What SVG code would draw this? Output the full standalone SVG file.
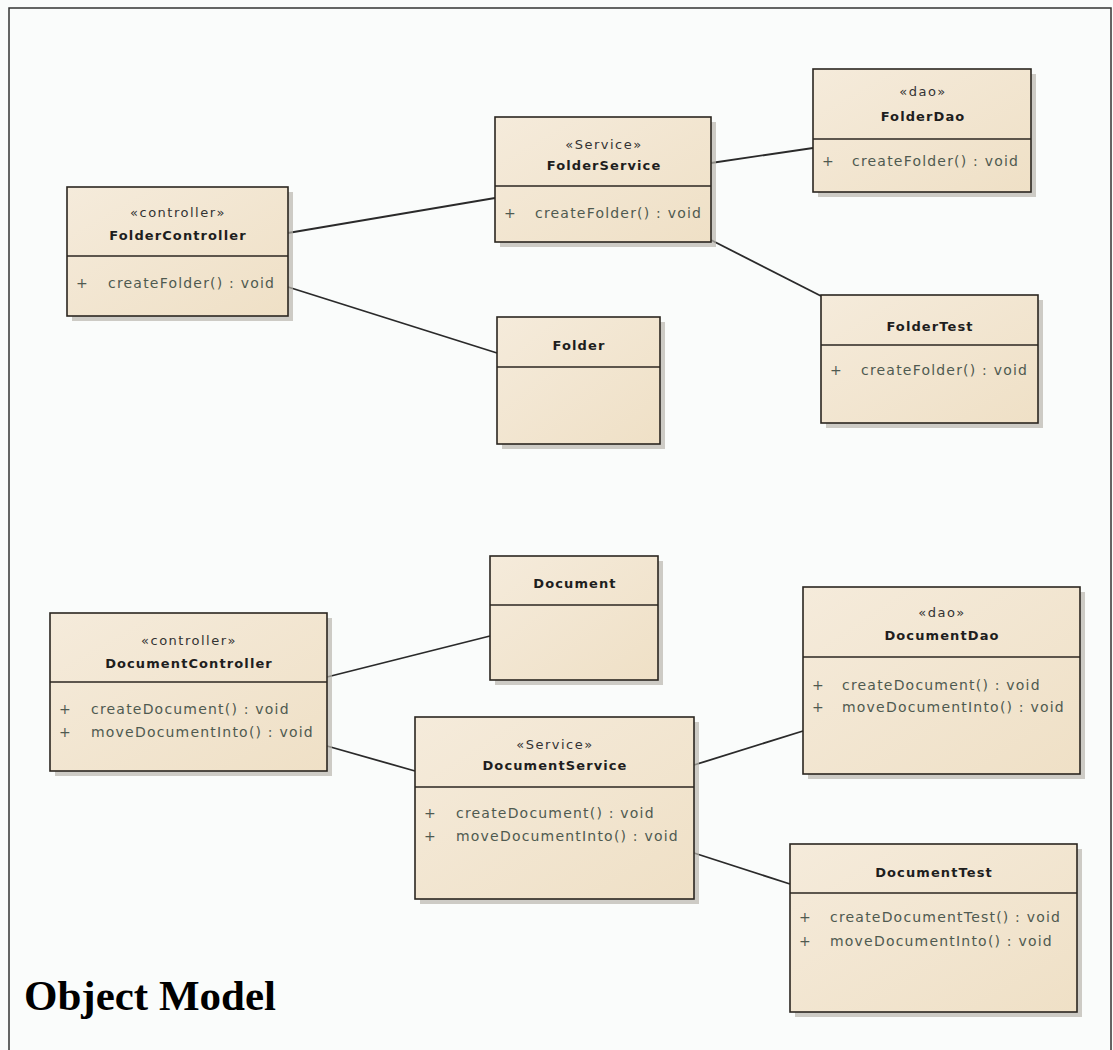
<svg xmlns="http://www.w3.org/2000/svg" width="1113" height="1050" viewBox="0 0 1113 1050">
<defs>
<linearGradient id="fill" x1="0" y1="0" x2="1" y2="1">
<stop offset="0" stop-color="#f5ebdb"/>
<stop offset="1" stop-color="#efe0c6"/>
</linearGradient>
<style>
.box{fill:url(#fill);stroke:#2b2620;stroke-width:1.6}
.sh{fill:#b9b6ae;opacity:0.7}
.div{stroke:#2b2620;stroke-width:1.4}
.st{font-family:"DejaVu Sans",sans-serif;font-size:13px;letter-spacing:1.5px;fill:#333;text-anchor:middle}
.nm{font-family:"DejaVu Sans",sans-serif;font-size:13px;letter-spacing:1.1px;font-weight:bold;fill:#1e1e1e;text-anchor:middle}
.op{font-family:"DejaVu Sans",sans-serif;font-size:14px;letter-spacing:1.2px;fill:#4f5a50}
.conn line{stroke:#2a2a2a;stroke-width:1.8}
</style>
</defs>
<rect x="0" y="0" width="1113" height="1050" fill="#fafcfb"/>
<rect x="9" y="8" width="1102" height="1050" fill="none" stroke="#333" stroke-width="1.5"/>

<g id="connectors" class="conn">
<line x1="288" y1="233" x2="495" y2="198"/>
<line x1="288" y1="287" x2="497" y2="353"/>
<line x1="711" y1="163" x2="813" y2="148"/>
<line x1="711" y1="240" x2="821" y2="296"/>
<line x1="327" y1="677" x2="490" y2="636"/>
<line x1="327" y1="746" x2="415" y2="771"/>
<line x1="694" y1="765" x2="803" y2="731"/>
<line x1="694" y1="853" x2="790" y2="884"/>
</g>

<g id="FolderController">
<rect class="sh" x="72" y="192" width="221" height="129"/>
<rect class="box" x="67" y="187" width="221" height="129"/>
<line class="div" x1="67" y1="256" x2="288" y2="256"/>
<text class="st" x="178" y="217">«controller»</text>
<text class="nm" x="178" y="240">FolderController</text>
<text class="op" x="76" y="288">+</text>
<text class="op" x="108" y="288">createFolder() : void</text>
</g>

<g id="FolderService">
<rect class="sh" x="500" y="122" width="216" height="125"/>
<rect class="box" x="495" y="117" width="216" height="125"/>
<line class="div" x1="495" y1="186" x2="711" y2="186"/>
<text class="st" x="604" y="149">«Service»</text>
<text class="nm" x="604" y="170">FolderService</text>
<text class="op" x="504" y="218">+</text>
<text class="op" x="535" y="218">createFolder() : void</text>
</g>

<g id="FolderDao">
<rect class="sh" x="818" y="74" width="218" height="123"/>
<rect class="box" x="813" y="69" width="218" height="123"/>
<line class="div" x1="813" y1="139" x2="1031" y2="139"/>
<text class="st" x="923" y="96">«dao»</text>
<text class="nm" x="923" y="121">FolderDao</text>
<text class="op" x="822" y="166">+</text>
<text class="op" x="852" y="166">createFolder() : void</text>
</g>

<g id="FolderTest">
<rect class="sh" x="826" y="300" width="217" height="128"/>
<rect class="box" x="821" y="295" width="217" height="128"/>
<line class="div" x1="821" y1="345" x2="1038" y2="345"/>
<text class="nm" x="930" y="331">FolderTest</text>
<text class="op" x="830" y="375">+</text>
<text class="op" x="861" y="375">createFolder() : void</text>
</g>

<g id="Folder">
<rect class="sh" x="502" y="322" width="163" height="127"/>
<rect class="box" x="497" y="317" width="163" height="127"/>
<line class="div" x1="497" y1="367" x2="660" y2="367"/>
<text class="nm" x="579" y="350">Folder</text>
</g>

<g id="Document">
<rect class="sh" x="495" y="561" width="168" height="124"/>
<rect class="box" x="490" y="556" width="168" height="124"/>
<line class="div" x1="490" y1="605" x2="658" y2="605"/>
<text class="nm" x="575" y="588">Document</text>
</g>

<g id="DocumentController">
<rect class="sh" x="55" y="618" width="277" height="158"/>
<rect class="box" x="50" y="613" width="277" height="158"/>
<line class="div" x1="50" y1="682" x2="327" y2="682"/>
<text class="st" x="189" y="645">«controller»</text>
<text class="nm" x="189" y="668">DocumentController</text>
<text class="op" x="59" y="714">+</text>
<text class="op" x="91" y="714">createDocument() : void</text>
<text class="op" x="59" y="737">+</text>
<text class="op" x="91" y="737">moveDocumentInto() : void</text>
</g>

<g id="DocumentService">
<rect class="sh" x="420" y="722" width="279" height="182"/>
<rect class="box" x="415" y="717" width="279" height="182"/>
<line class="div" x1="415" y1="787" x2="694" y2="787"/>
<text class="st" x="555" y="749">«Service»</text>
<text class="nm" x="555" y="770">DocumentService</text>
<text class="op" x="424" y="818">+</text>
<text class="op" x="456" y="818">createDocument() : void</text>
<text class="op" x="424" y="841">+</text>
<text class="op" x="456" y="841">moveDocumentInto() : void</text>
</g>

<g id="DocumentDao">
<rect class="sh" x="808" y="592" width="277" height="187"/>
<rect class="box" x="803" y="587" width="277" height="187"/>
<line class="div" x1="803" y1="657" x2="1080" y2="657"/>
<text class="st" x="942" y="617">«dao»</text>
<text class="nm" x="942" y="640">DocumentDao</text>
<text class="op" x="812" y="690">+</text>
<text class="op" x="842" y="690">createDocument() : void</text>
<text class="op" x="812" y="712">+</text>
<text class="op" x="842" y="712">moveDocumentInto() : void</text>
</g>

<g id="DocumentTest">
<rect class="sh" x="795" y="849" width="287" height="168"/>
<rect class="box" x="790" y="844" width="287" height="168"/>
<line class="div" x1="790" y1="893" x2="1077" y2="893"/>
<text class="nm" x="934" y="877">DocumentTest</text>
<text class="op" x="799" y="922">+</text>
<text class="op" x="830" y="922">createDocumentTest() : void</text>
<text class="op" x="799" y="946">+</text>
<text class="op" x="830" y="946">moveDocumentInto() : void</text>
</g>

<text x="24" y="1010" font-family="'Liberation Serif',serif" font-size="43" font-weight="bold" fill="#000">Object Model</text>
</svg>
